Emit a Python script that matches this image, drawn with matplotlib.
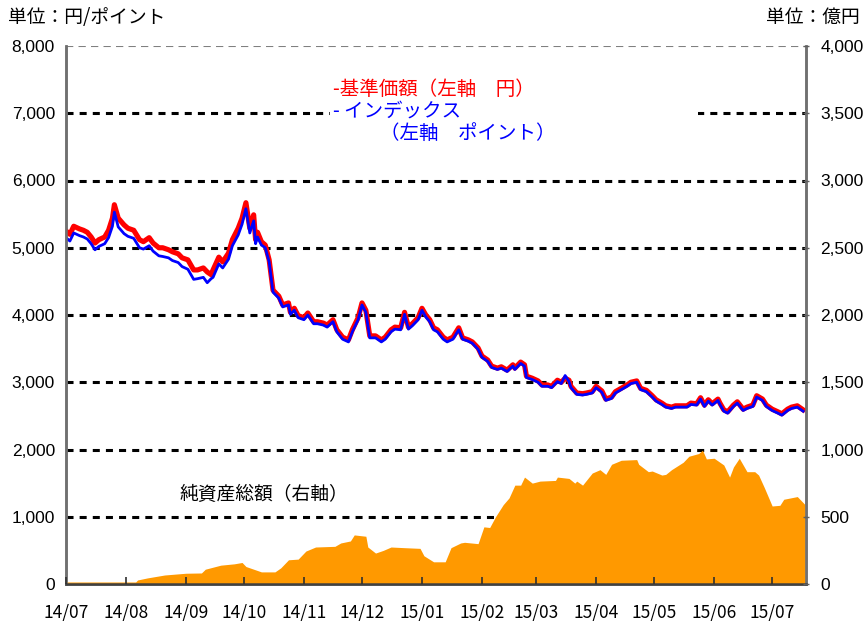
import matplotlib
matplotlib.use('Agg')
import matplotlib.pyplot as plt
import matplotlib.dates as mdates
import pandas as pd
from matplotlib.ticker import FuncFormatter
from matplotlib.patches import Rectangle

plt.rcParams['font.family'] = ['Noto Sans CJK JP', 'DejaVu Sans']

# ---------------- data ----------------
price_dates = [
    '2014-07-01', '2014-07-03', '2014-07-05', '2014-07-08', '2014-07-10', '2014-07-12',
    '2014-07-14', '2014-07-16', '2014-07-18', '2014-07-21', '2014-07-23', '2014-07-25',
    '2014-07-26', '2014-07-28', '2014-07-31', '2014-08-02', '2014-08-05', '2014-08-08',
    '2014-08-10', '2014-08-13', '2014-08-15', '2014-08-18', '2014-08-20', '2014-08-23',
    '2014-08-25', '2014-08-28', '2014-08-30', '2014-09-02', '2014-09-05', '2014-09-07',
    '2014-09-10', '2014-09-12', '2014-09-14', '2014-09-15', '2014-09-18', '2014-09-20',
    '2014-09-23', '2014-09-25', '2014-09-28', '2014-09-30', '2014-10-02', '2014-10-04',
    '2014-10-06', '2014-10-07', '2014-10-08', '2014-10-10', '2014-10-12', '2014-10-14',
    '2014-10-16', '2014-10-19', '2014-10-21', '2014-10-24', '2014-10-25', '2014-10-27',
    '2014-10-29', '2014-11-01', '2014-11-03', '2014-11-06', '2014-11-08', '2014-11-11',
    '2014-11-13', '2014-11-16', '2014-11-18', '2014-11-21', '2014-11-24', '2014-11-26',
    '2014-11-29', '2014-12-01', '2014-12-03', '2014-12-05', '2014-12-08', '2014-12-11',
    '2014-12-13', '2014-12-16', '2014-12-18', '2014-12-21', '2014-12-23', '2014-12-25',
    '2014-12-27', '2014-12-30', '2015-01-01', '2015-01-03', '2015-01-05', '2015-01-07',
    '2015-01-09', '2015-01-12', '2015-01-14', '2015-01-17', '2015-01-20', '2015-01-22',
    '2015-01-25', '2015-01-27', '2015-01-30', '2015-02-01', '2015-02-04', '2015-02-06',
    '2015-02-09', '2015-02-11', '2015-02-14', '2015-02-17', '2015-02-18', '2015-02-21',
    '2015-02-23', '2015-02-24', '2015-02-27', '2015-03-02', '2015-03-04', '2015-03-07',
    '2015-03-09', '2015-03-12', '2015-03-14', '2015-03-16', '2015-03-18', '2015-03-19',
    '2015-03-22', '2015-03-25', '2015-03-27', '2015-03-30', '2015-04-01', '2015-04-04',
    '2015-04-06', '2015-04-09', '2015-04-11', '2015-04-14', '2015-04-17', '2015-04-19',
    '2015-04-22', '2015-04-24', '2015-04-27', '2015-04-30', '2015-05-02', '2015-05-05',
    '2015-05-07', '2015-05-10', '2015-05-12', '2015-05-15', '2015-05-18', '2015-05-20',
    '2015-05-23', '2015-05-25', '2015-05-27', '2015-05-29', '2015-05-31', '2015-06-03',
    '2015-06-04', '2015-06-06', '2015-06-08', '2015-06-11', '2015-06-13', '2015-06-16',
    '2015-06-18', '2015-06-21', '2015-06-23', '2015-06-26', '2015-06-28', '2015-07-01',
    '2015-07-04', '2015-07-06', '2015-07-09', '2015-07-11', '2015-07-14', '2015-07-17',
]
# 基準価額 (円)
price_values = [
    5250, 5200, 5320, 5280, 5260, 5230, 5160, 5070, 5120, 5160, 5260, 5440,
    5640, 5440, 5340, 5290, 5260, 5120, 5090, 5150, 5070, 5000, 5000, 4970,
    4940, 4910, 4850, 4820, 4670, 4670, 4700, 4640, 4600, 4670, 4860, 4790,
    4920, 5120, 5290, 5440, 5670, 5290, 5490, 5120, 5230, 5090, 5040, 4820,
    4370, 4280, 4150, 4180, 4040, 4100, 3990, 3960, 4030, 3900, 3900, 3880,
    3850, 3930, 3780, 3670, 3630, 3780, 3960, 4180, 4070, 3690, 3690, 3630,
    3670, 3780, 3820, 3810, 4040, 3820, 3870, 3960, 4100, 4000, 3930, 3810,
    3780, 3670, 3630, 3670, 3810, 3660, 3630, 3600, 3510, 3390, 3330, 3240,
    3210, 3230, 3180, 3260, 3210, 3300, 3260, 3090, 3060, 3020, 2960, 2960,
    2940, 3030, 3000, 3060, 3030, 2940, 2840, 2830, 2840, 2860, 2940, 2870,
    2750, 2780, 2860, 2910, 2960, 3000, 3020, 2910, 2880, 2800, 2740, 2690,
    2650, 2630, 2650, 2650, 2650, 2690, 2680, 2770, 2660, 2740, 2680, 2750,
    2690, 2590, 2560, 2660, 2710, 2600, 2630, 2660, 2800, 2750, 2660, 2600,
    2560, 2530, 2600, 2630, 2650, 2590,
]
# インデックス (ポイント)
index_values = [
    5150, 5100, 5220, 5180, 5160, 5130, 5060, 4970, 5020, 5060, 5150, 5320,
    5530, 5310, 5210, 5170, 5140, 5000, 4980, 5030, 4950, 4880, 4870, 4850,
    4810, 4780, 4720, 4680, 4530, 4540, 4560, 4480, 4540, 4560, 4760, 4700,
    4830, 5030, 5190, 5350, 5580, 5220, 5400, 5060, 5160, 5040, 5000, 4790,
    4340, 4250, 4120, 4150, 4010, 4070, 3960, 3930, 4000, 3870, 3870, 3850,
    3820, 3900, 3750, 3640, 3600, 3750, 3930, 4150, 4040, 3660, 3660, 3600,
    3640, 3750, 3790, 3780, 4010, 3790, 3840, 3930, 4070, 3970, 3900, 3780,
    3750, 3640, 3600, 3640, 3780, 3640, 3610, 3580, 3490, 3370, 3310, 3220,
    3190, 3210, 3160, 3240, 3190, 3280, 3240, 3070, 3040, 3000, 2940, 2940,
    2920, 3010, 2980, 3100, 3010, 2920, 2820, 2810, 2820, 2840, 2920, 2850,
    2730, 2760, 2840, 2890, 2940, 2980, 3000, 2890, 2860, 2780, 2720, 2670,
    2630, 2610, 2630, 2630, 2630, 2670, 2660, 2750, 2640, 2720, 2660, 2730,
    2670, 2570, 2540, 2640, 2690, 2580, 2610, 2640, 2780, 2730, 2640, 2580,
    2540, 2510, 2580, 2610, 2630, 2570,
]

asset_dates = [
    '2014-07-01', '2014-08-06', '2014-08-07', '2014-08-12', '2014-08-21', '2014-09-01',
    '2014-09-09', '2014-09-11', '2014-09-19', '2014-09-26', '2014-09-30', '2014-10-02',
    '2014-10-10', '2014-10-17', '2014-10-20', '2014-10-24', '2014-10-29', '2014-11-02',
    '2014-11-07', '2014-11-17', '2014-11-20', '2014-11-25', '2014-11-27', '2014-12-03',
    '2014-12-04', '2014-12-08', '2014-12-12', '2014-12-16', '2014-12-23', '2014-12-31',
    '2015-01-02', '2015-01-07', '2015-01-13', '2015-01-16', '2015-01-21', '2015-01-23',
    '2015-01-30', '2015-02-02', '2015-02-05', '2015-02-08', '2015-02-12', '2015-02-15',
    '2015-02-18', '2015-02-21', '2015-02-23', '2015-02-27', '2015-03-03', '2015-03-11',
    '2015-03-12', '2015-03-18', '2015-03-21', '2015-03-22', '2015-03-25', '2015-03-30',
    '2015-04-03', '2015-04-06', '2015-04-09', '2015-04-14', '2015-04-22', '2015-04-23',
    '2015-04-28', '2015-04-30', '2015-05-05', '2015-05-07', '2015-05-10', '2015-05-16',
    '2015-05-19', '2015-05-24', '2015-05-26', '2015-05-28', '2015-06-01', '2015-06-06',
    '2015-06-09', '2015-06-11', '2015-06-14', '2015-06-18', '2015-06-22', '2015-06-24',
    '2015-06-27', '2015-07-01', '2015-07-05', '2015-07-07', '2015-07-14', '2015-07-18',
]
# 純資産総額 (億円)
asset_values = [
    15, 15, 30, 45, 67, 80, 82, 110, 140, 150, 160, 130,
    90, 90, 120, 180, 185, 245, 275, 280, 305, 320, 365, 355,
    275, 230, 250, 275, 270, 265, 210, 165, 165, 270, 305, 310,
    300, 425, 420, 500, 590, 640, 735, 735, 795, 750, 765, 770,
    795, 785, 750, 765, 735, 825, 850, 815, 890, 920, 925, 890,
    835, 840, 810, 815, 850, 905, 950, 970, 995, 930, 935, 885,
    795, 870, 935, 835, 835, 810, 715, 580, 585, 630, 650, 590,
]

left_ticks = [0, 1000, 2000, 3000, 4000, 5000, 6000, 7000, 8000]
right_ticks = [0, 500, 1000, 1500, 2000, 2500, 3000, 3500, 4000]

# ---------------- figure ----------------
W, H = 863, 621
fig = plt.figure(figsize=(W / 100, H / 100), dpi=100)
L, R, T, B = 66, 806, 46, 584
ax = fig.add_axes([L / W, (H - B) / H, (R - L) / W, (B - T) / H])
ax2 = ax.twinx()

pd_price = pd.to_datetime(price_dates)
pd_asset = pd.to_datetime(asset_dates)

# grid
grid_style = dict(color='black', linewidth=2.2, linestyle=(0, (2.3, 2.0)))
for v in left_ticks[1:-1]:
    ax.axhline(v, zorder=0.5, **grid_style)
ax.axhline(8000, color='#808080', linewidth=1.5, linestyle=(0, (3.5, 2.5)), zorder=0.5)

# white legend background
ax.add_patch(Rectangle((0.357, 0.815), 0.497, 0.125, transform=ax.transAxes,
                       facecolor='white', edgecolor='none', zorder=1))

ax.plot(pd_price, price_values, color='#FF0000', linewidth=3.7, zorder=3,
        solid_joinstyle='round')
ax.plot(pd_price, index_values, color='#0000FF', linewidth=2.0, zorder=4,
        solid_joinstyle='round')

ax2.fill_between(pd_asset, 0, asset_values, color='#FF9900', linewidth=0, zorder=2)

xmin = pd.Timestamp('2014-07-01')
xmax = pd.Timestamp('2015-07-18 12:00')
ax.set_xlim(xmin, xmax)
ax.set_ylim(0, 8000)
ax2.set_ylim(0, 4000)

fmt = FuncFormatter(lambda v, p: f'{int(v):,}')
ax.set_yticks(left_ticks)
ax.yaxis.set_major_formatter(fmt)
ax2.set_yticks(right_ticks)
ax2.yaxis.set_major_formatter(fmt)

ax.xaxis.set_major_locator(mdates.MonthLocator())
ax.xaxis.set_major_formatter(mdates.DateFormatter('%y/%m'))

num_font = 'Liberation Sans'
ax.tick_params(axis='y', length=0, pad=8, labelsize=12.5, labelfontfamily=num_font)
ax2.tick_params(axis='y', direction='inout', length=5, width=1, color='#606060',
                pad=8, labelsize=12.5, labelfontfamily=num_font)
ax.tick_params(axis='x', length=0, pad=14, labelsize=12.5,
               labelfontfamily='Noto Sans CJK JP')
# tick marks drawn on the top (area) axes so they show over the filled area
ax2.set_axisbelow(False)
ax2.xaxis.set_visible(True)
ax2.tick_params(axis='x', direction='in', length=5, width=1.2, color='#303030',
                labelbottom=False, bottom=True, top=False)

for a in (ax, ax2):
    a.spines['top'].set_visible(False)
    for s in ('left', 'right', 'bottom'):
        a.spines[s].set_color('#707070')
        a.spines[s].set_linewidth(1.8)
ax2.spines['bottom'].set_color('#404040')

# texts
jp = ['Noto Sans CJK JP', 'DejaVu Sans']
fig.text(8 / W, 1 - 17 / H, '単位：円/ポイント', fontsize=13.5, family=jp,
         ha='left', va='center')
fig.text(860 / W, 1 - 17 / H, '単位：億円', fontsize=13.5, family=jp,
         ha='right', va='center')

def axfrac(px, py):
    return (px - L) / (R - L), (B - py) / (B - T)

ax.text(*axfrac(333, 89), '-基準価額（左軸　円）', transform=ax.transAxes,
        color='#FF0000', fontsize=14, family=jp, ha='left', va='center', zorder=5)
ax.text(*axfrac(333, 111), '- インデックス', transform=ax.transAxes,
        color='#0000FF', fontsize=14, family=jp, ha='left', va='center', zorder=5)
ax.text(*axfrac(380, 133), '（左軸　ポイント）', transform=ax.transAxes,
        color='#0000FF', fontsize=14, family=jp, ha='left', va='center', zorder=5)
ax.text(*axfrac(179, 494), '純資産総額（右軸）', transform=ax.transAxes,
        color='black', fontsize=13.5, family=jp, ha='left', va='center', zorder=5)

fig.savefig('out.png', dpi=100)
